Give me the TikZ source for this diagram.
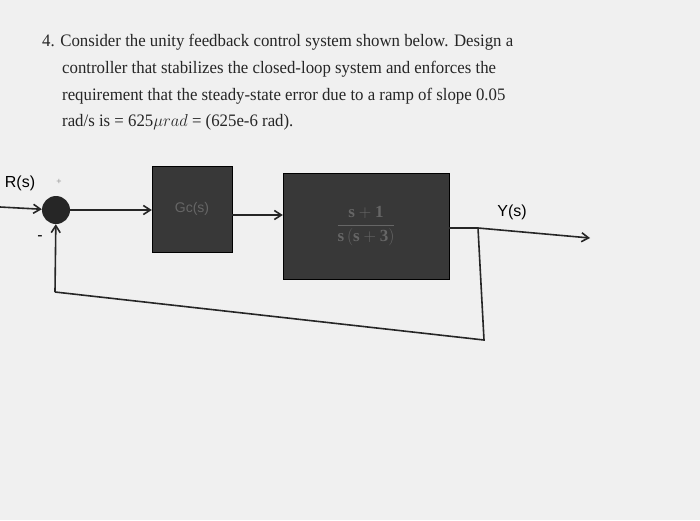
\documentclass[tikz,border=0pt]{standalone}
\usepackage{fontspec}
\setmainfont{Liberation Serif}
\newfontfamily\labfont{Liberation Sans}
\usetikzlibrary{arrows.meta}
\begin{document}
\begin{tikzpicture}[x=1pt,y=-1pt,
  txt/.style={anchor=west,inner sep=0pt,text=black!85,font=\fontsize{17.5}{20}\selectfont},
  blk/.style={draw=black,fill=black!78,inner sep=0pt},
  sig/.style={draw=black!85,line width=1.6pt,-{Straight Barb[length=7pt,width=9pt]}},
  wire/.style={draw=black!85,line width=1.6pt},
  lab/.style={font=\labfont\fontsize{16}{18}\selectfont}]
\fill[black!6] (0,0) rectangle (700,520);
\useasboundingbox (0,0) rectangle (700,520);
\node[txt,xscale=0.96] (l1) at (42,42) {4. Consider the unity feedback control system shown below. Design a};
\node[txt,xscale=0.96] (l2) at (62,69) {controller that stabilizes the closed-loop system and enforces the};
\node[txt,xscale=0.96] (l3) at (62,96) {requirement that the steady-state error due to a ramp of slope 0.05};
\node[txt,xscale=0.96] (l4) at (62,122) {rad/s is = 625$\mu rad$ = (625e-6 rad).};
\node[circle,fill=black!85,minimum size=28pt,inner sep=0pt] (sum) at (56,210) {};
\node[blk,minimum width=80pt,minimum height=86pt,text=black!60] (gc) at (192,209) {\labfont\fontsize{14}{16}\selectfont Gc(s)};
\node[blk,minimum width=166pt,minimum height=106pt,text=black!60] (g) at (366,226) {\fontsize{17}{19}\selectfont$\displaystyle\frac{\mathbf{s+1}}{\mathbf{s\,(s+3)}}$};
\coordinate (in) at (0,207);
\coordinate (br) at (478,228);
\coordinate (out) at (590,238);
\coordinate (c1) at (484,340);
\coordinate (c2) at (55,292);
\draw[sig] (in) -- (sum);
\draw[sig] (sum) -- (sum -| gc.west);
\draw[sig] (gc.east |- 0,215) -- (g.west |- 0,215);
\draw[wire] (g.east |- br) -- (br);
\draw[sig] (br) -- (out);
\draw[wire] (br) -- (c1) -- (c2);
\draw[sig] (c2) -- (sum);
\node[lab] (r) at (20,183) {R(s)};
\node[lab,text=black!40] (p) at (59,182) {\small +};
\node[lab] (m) at (40,238) {-};
\node[lab] (y) at (512,212) {Y(s)};
\end{tikzpicture}
\end{document}
